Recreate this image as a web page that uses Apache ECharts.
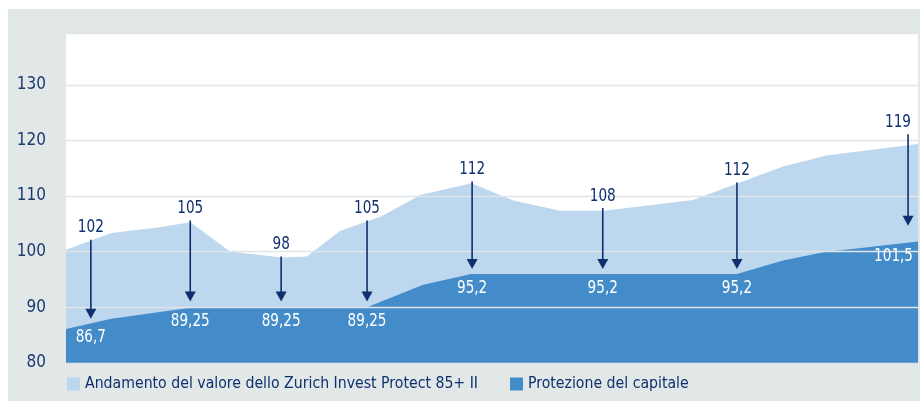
<!DOCTYPE html>
<html>
<head>
<meta charset="utf-8">
<script src="https://cdn.jsdelivr.net/npm/echarts@6/dist/echarts.min.js"></script>
<style>
html, body { margin: 0; padding: 0; background: #fff; }
#chart { position: absolute; left: 8px; top: 9px; width: 912px; height: 392px; background: #e2e7e8; }
</style>
</head>
<body>
<div id="chart"></div>
<script>
// time axis in months from start
var valoreX = [0, 6.4, 13.2, 17.5, 23.1, 30.4, 33.9, 38.6, 44.5, 49.9, 57.1, 63.0, 69.6, 75.8, 88.3, 101.0, 107.1, 120];
var valoreY = [100.35, 103.35, 104.4, 105.3, 100.05, 98.97, 99.15, 103.7, 106.4, 110.2, 112.3, 109.2, 107.35, 107.35, 109.3, 115.3, 117.3, 119.35];

var protezioneX = [0, 6.4, 18.0, 42.4, 50.3, 57.1, 94.5, 101.0, 106.7, 120];
var protezioneY = [86.1, 87.95, 90, 90, 94.05, 96, 96, 98.4, 99.9, 101.85];

// arrow annotations
var frecciaX = [3.5, 17.5, 30.3, 42.4, 57.2, 75.6, 94.5, 118.6];
var frecciaDa = [102.15, 105.6, 99.15, 105.6, 112.6, 107.85, 112.45, 121.1];
var frecciaA = [87.96, 91.07, 91.07, 91.07, 96.9, 96.9, 96.9, 104.66];
var livelloProtezione = [87.1, 90, 90, 90, 96, 96, 96, 101.7];
var etichetteValore = ['102', '105', '98', '105', '112', '108', '112', '119'];
var etichetteProtezione = ['86,7', '89,25', '89,25', '89,25', '95,2', '95,2', '95,2', '101,5'];

var yTicks = [80, 90, 100, 110, 120, 130];

var nomi = ['Andamento del valore dello Zurich Invest Protect 85+ II', 'Protezione del capitale'];

var font = "'DejaVu Sans Condensed', 'Noto Sans', sans-serif";
var navy = '#0f2f6e';

var dom = document.getElementById('chart');
var myChart = echarts.init(dom);

var datiValore = valoreX.map(function (x, i) { return [x, valoreY[i]]; });
var datiProtezione = protezioneX.map(function (x, i) { return [x, protezioneY[i]]; });
var datiFrecce = frecciaX.map(function (x, i) { return [x, frecciaDa[i], frecciaA[i], livelloProtezione[i]]; });

function renderFreccia(params, api) {
    var i = params.dataIndex;
    var x = api.value(0);
    var p1 = api.coord([x, api.value(1)]);
    var p2 = api.coord([x, api.value(2)]);
    var p3 = api.coord([x, api.value(3)]);
    var destra = params.coordSys.x + params.coordSys.width;
    var vicino = p1[0] + 22 > destra;
    return {
        type: 'group',
        children: [
            {
                type: 'line',
                shape: { x1: p1[0], y1: p1[1], x2: p2[0], y2: p2[1] - 8 },
                style: { stroke: navy, lineWidth: 1.6 }
            },
            {
                type: 'polygon',
                shape: { points: [[p2[0] - 5.5, p2[1] - 10], [p2[0] + 5.5, p2[1] - 10], [p2[0], p2[1]]] },
                style: { fill: navy }
            },
            {
                type: 'text',
                x: vicino ? destra - 7 : p1[0],
                y: p1[1] - 3,
                scaleX: 0.84,
                style: {
                    text: etichetteValore[i], fill: navy, font: '18px ' + font,
                    textAlign: vicino ? 'right' : 'center', textVerticalAlign: 'bottom'
                }
            },
            {
                type: 'text',
                x: vicino ? destra - 5 : p3[0],
                y: p3[1] + 14,
                scaleX: 0.84,
                style: {
                    text: etichetteProtezione[i], fill: '#ffffff', font: '18px ' + font,
                    textAlign: vicino ? 'right' : 'center', textVerticalAlign: 'middle'
                }
            }
        ]
    };
}

var option = {
    animation: false,
    textStyle: { fontFamily: font },
    grid: {
        left: 58,
        top: 24,
        width: 852,
        height: 330,
        show: true,
        backgroundColor: '#ffffff',
        borderWidth: 0
    },
    legend: {
        left: 54,
        top: 362,
        itemWidth: 13,
        itemHeight: 13,
        itemGap: 32,
        icon: 'rect',
        selectedMode: false,
        textStyle: { color: navy, fontSize: 15.7, fontFamily: font },
        data: nomi
    },
    xAxis: {
        type: 'value',
        min: 0,
        max: 120,
        show: false
    },
    yAxis: {
        type: 'value',
        min: 80,
        max: 139.3,
        interval: 10,
        z: 3,
        axisLine: { show: false },
        axisTick: { show: false },
        axisLabel: {
            margin: 20,
            color: '#1c3a6e',
            fontSize: 17,
            fontFamily: font,
            formatter: function (v) { return yTicks.indexOf(v) >= 0 ? String(v) : ''; }
        },
        splitLine: { lineStyle: { color: '#dfe5e8', width: 1.3 } }
    },
    series: [
        {
            name: nomi[0],
            type: 'line',
            data: datiValore,
            showSymbol: false,
            lineStyle: { width: 0 },
            itemStyle: { color: '#bcd7ee' },
            areaStyle: { color: '#bcd7ee', opacity: 1, origin: 'start' },
            z: 1
        },
        {
            name: nomi[1],
            type: 'line',
            data: datiProtezione,
            showSymbol: false,
            lineStyle: { width: 0 },
            itemStyle: { color: '#438cc9' },
            areaStyle: { color: '#438cc9', opacity: 1, origin: 'start' },
            z: 2
        },
        {
            type: 'custom',
            renderItem: renderFreccia,
            data: datiFrecce,
            z: 5,
            silent: true
        }
    ]
};

if (option && typeof option === "object") {
    myChart.setOption(option, true);
}
</script>
</body>
</html>
